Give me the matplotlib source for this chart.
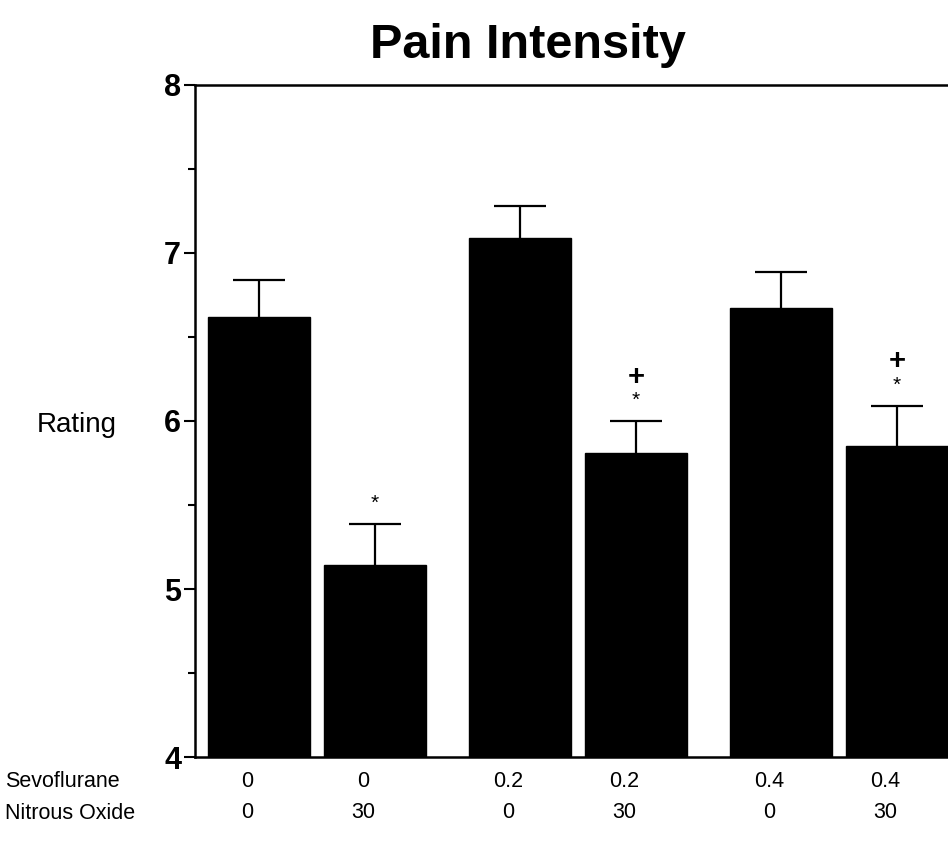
import numpy as np
import matplotlib
matplotlib.use("Agg")
import matplotlib.pyplot as plt
import matplotlib.transforms as mtransforms

plt.rcParams["font.family"] = ["Liberation Sans", "DejaVu Sans"]

# ── Data ──────────────────────────────────────────────────────────────────────
sevoflurane = ["0", "0", "0.2", "0.2", "0.4", "0.4"]
nitrous_oxide = ["0", "30", "0", "30", "0", "30"]
rating_mean = [6.62, 5.14, 7.09, 5.81, 6.67, 5.85]
rating_sem = [0.22, 0.245, 0.19, 0.19, 0.215, 0.24]
star_flag = [False, True, False, True, False, True]
plus_flag = [False, False, False, True, False, True]

# ── Layout ────────────────────────────────────────────────────────────────────
W, H = 948, 847
fig = plt.figure(figsize=(W / 100, H / 100), dpi=100)
ax_left, ax_right, ax_top, ax_bottom = 195, 960, 85, 757
ax = fig.add_axes([ax_left / W, 1 - ax_bottom / H,
                   (ax_right - ax_left) / W, (ax_bottom - ax_top) / H])

# pairs of bars, with a wider gap between the pairs
idx = np.arange(len(rating_mean))
x = idx + 0.25 * (idx // 2)

ax.bar(x, rating_mean, width=0.88, color="black", edgecolor="black", zorder=2)
_, caps, _ = ax.errorbar(x, rating_mean, yerr=[np.zeros(len(rating_sem)), rating_sem],
                         fmt="none", ecolor="black", elinewidth=1.6, capsize=19,
                         capthick=1.6, zorder=1)
caps[0].set_visible(False)  # only the upper cap is drawn

# significance marks above the error bars
for xi, m, s, st, pl in zip(x, rating_mean, rating_sem, star_flag, plus_flag):
    top = m + s
    if st:
        ax.annotate("*", (xi, top), xytext=(0, 15), textcoords="offset points",
                    ha="center", va="center", fontsize=15)
    if pl:
        ax.annotate("+", (xi, top), xytext=(0, 32), textcoords="offset points",
                    ha="center", va="center", fontsize=21, fontweight="bold")

ax.set_ylim(4, 8)
ax.set_xlim(-0.552, (ax_right - 259) / 116)
ax.set_yticks([4, 5, 6, 7, 8])
ax.set_yticks([4.5, 5.5, 6.5, 7.5], minor=True)
ax.set_yticklabels(["4", "5", "6", "7", "8"], fontsize=22, fontweight="bold")
ax.tick_params(axis="y", which="major", length=8, width=1.5, pad=2)
ax.tick_params(axis="y", which="minor", length=5, width=1.5)
ax.set_xticks([])

for side in ["left", "bottom", "top"]:
    ax.spines[side].set_linewidth(1.8)
ax.spines["right"].set_visible(False)

# condition labels beneath the bars
trans = mtransforms.blended_transform_factory(ax.transData, ax.transAxes)
for xi, sv, no in zip(x, sevoflurane, nitrous_oxide):
    ax.text(xi - 0.1, -0.036, sv, transform=trans, ha="center", va="center",
            fontsize=15.5)
    ax.text(xi - 0.1, -0.083, no, transform=trans, ha="center", va="center",
            fontsize=15.5)

fig.text(5 / W, 1 - 781 / H, "Sevoflurane", ha="left", va="center", fontsize=15.5)
fig.text(5 / W, 1 - 813 / H, "Nitrous Oxide", ha="left", va="center", fontsize=15.5)
fig.text(37 / W, 1 - 425 / H, "Rating", ha="left", va="center", fontsize=20)
fig.text(528 / W, 1 - 46 / H, "Pain Intensity", ha="center", va="center",
         fontsize=35, fontweight="bold")

fig.savefig("out.png", dpi=100)
